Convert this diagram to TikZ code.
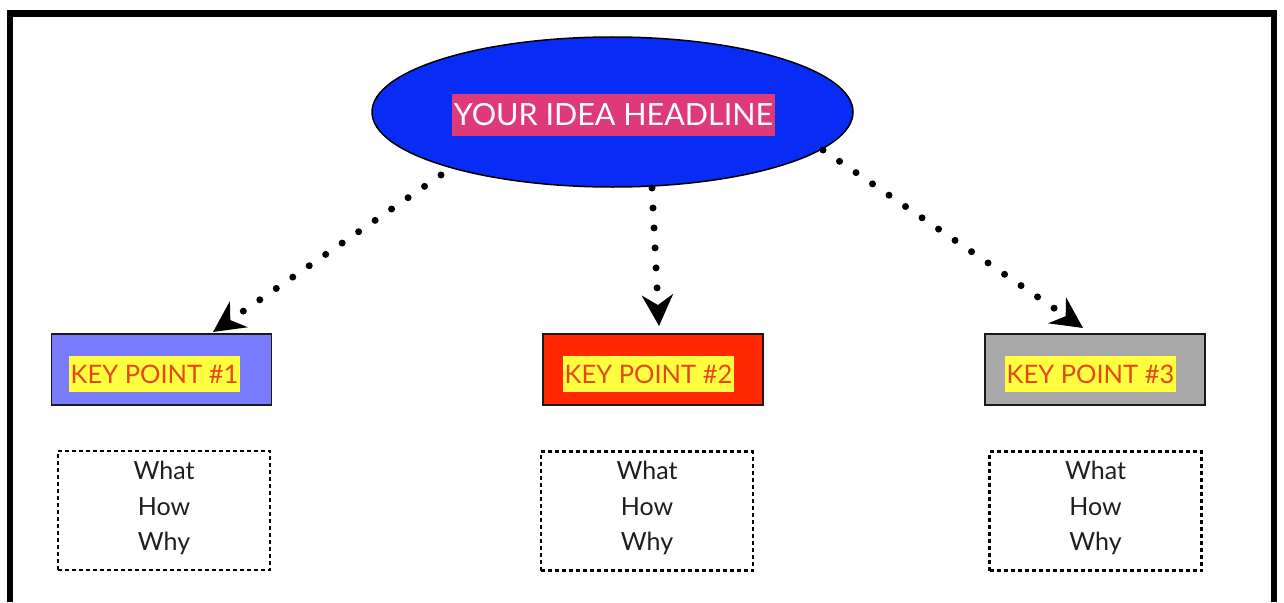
\documentclass[tikz,border=0pt]{standalone}
\usepackage{fontspec}
\setmainfont{Lato}
\usetikzlibrary{arrows.meta,shapes.geometric}
\definecolor{headblue}{RGB}{8,44,245}
\definecolor{headpink}{RGB}{222,58,122}
\definecolor{kpblue}{RGB}{122,124,255}
\definecolor{kpred}{RGB}{255,40,0}
\definecolor{kpgray}{RGB}{168,168,168}
\definecolor{kpyellow}{RGB}{255,255,64}
\definecolor{kptext}{RGB}{228,72,24}
\definecolor{bodytext}{RGB}{30,30,30}
\tikzset{
  keybox/.style={draw=black!90, line width=1.8pt, minimum width=220pt, minimum height=71pt, inner sep=0pt},
  keytext/.style={fill=kpyellow, text=kptext, font=\fontsize{25.5}{28}\selectfont, minimum width=171pt, minimum height=36pt, inner sep=0pt},
  notebox/.style={draw=black, line width=2.2pt, dash pattern=on 4pt off 3pt, minimum width=212pt, minimum height=119pt, inner sep=0pt},
  notetext/.style={text=bodytext, font=\fontsize{25}{35.5}\selectfont, align=center, inner sep=0pt},
  dotarrow/.style={line width=7pt, line cap=round, dash pattern=on 0pt off 20pt, -{Stealth[length=31pt 0 0, width=31pt 0 0, inset=10pt 0 0]}}
}
\begin{document}
\begin{tikzpicture}[x=1pt,y=-1pt]
\useasboundingbox (0,0) rectangle (1284,602);
% frame
\draw[line width=6.5pt] (10,602) -- (10,13.5) -- (1274,13.5) -- (1274,602);
% headline
\node[ellipse, draw=black, line width=1.5pt, fill=headblue, minimum width=481pt, minimum height=150pt, inner sep=0pt] (head) at (612.5,112) {};
\node[fill=headpink, text=white, font=\fontsize{30.5}{34}\selectfont, minimum width=323pt, minimum height=42pt, inner sep=0pt] (headtxt) at (613.5,114.5) {YOUR IDEA HEADLINE};
% key points
\node[keybox, fill=kpblue] (k1) at (161.5,369.5) {};
\node[keybox, fill=kpred] (k2) at (653,369.5) {};
\node[keybox, fill=kpgray] (k3) at (1095,369.5) {};
\node[keytext] (kt1) at (154.5,374) {KEY POINT \#1};
\node[keytext] (kt2) at (648.5,374) {KEY POINT \#2};
\node[keytext] (kt3) at (1090.5,374) {KEY POINT \#3};
% notes
\node[notebox] (n1) at (164,510.5) {};
\node[notebox] (n2) at (647,511) {};
\node[notebox] (n3) at (1095.5,511) {};
\node[notetext] (nt1) at (164,508) {What\\How\\Why};
\node[notetext] (nt2) at (647,508) {What\\How\\Why};
\node[notetext] (nt3) at (1095.5,508) {What\\How\\Why};
% connectors
\coordinate (s1) at (441,175);
\coordinate (t1) at (213,332);
\coordinate (s2) at (652,188);
\coordinate (t2) at (659,326);
\coordinate (s3) at (823,150);
\coordinate (t3) at (1083,328);
\draw[dotarrow] (s1) -- (t1);
\draw[dotarrow] (s2) -- (t2);
\draw[dotarrow] (s3) -- (t3);
\end{tikzpicture}
\end{document}
